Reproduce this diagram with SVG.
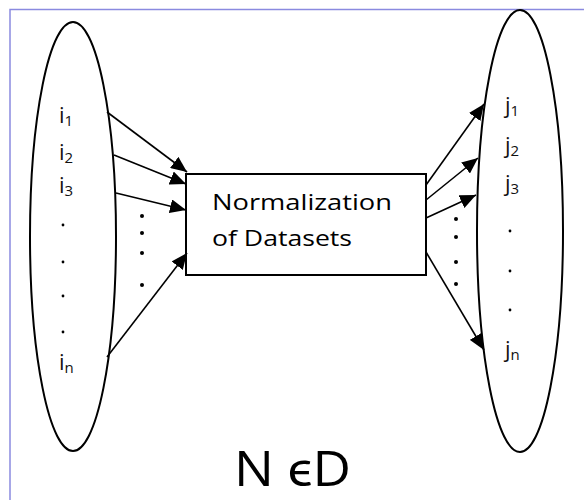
<svg xmlns="http://www.w3.org/2000/svg" width="584" height="500" viewBox="0 0 584 500">
<style>
.ell{fill:none;stroke:#000;stroke-width:2}
.box{fill:#fff;stroke:#000;stroke-width:2}
.lbl{font-family:"Open Sans",Lato,sans-serif;font-size:22px;fill:#111}
.sub{font-size:15px}
.con{stroke:#000;stroke-width:1.6;fill:none}
.dot{fill:#000}
.bt{font-family:"Open Sans",Lato,sans-serif;font-size:22px;fill:#000}
</style>
<defs>
<marker id="ah" markerUnits="userSpaceOnUse" markerWidth="18" markerHeight="14" refX="16" refY="7" orient="auto">
<path d="M0,0 L16,7 L0,14 Z" fill="#000"/>
</marker>
</defs>
<rect x="0" y="0" width="584" height="500" fill="#fff"/>
<path d="M10,500 V9.5 H584" fill="none" stroke="#8a8ae0" stroke-width="1.5"/>
<g id="inputs">
<ellipse class="ell" cx="73" cy="236.5" rx="43" ry="214.5"/>
<text class="lbl" x="59" y="123">i<tspan class="sub" dy="3">1</tspan></text>
<text class="lbl" x="59" y="160">i<tspan class="sub" dy="3">2</tspan></text>
<text class="lbl" x="59" y="193">i<tspan class="sub" dy="3">3</tspan></text>
<circle class="dot" cx="63" cy="225" r="1.4"/>
<circle class="dot" cx="63" cy="262" r="1.4"/>
<circle class="dot" cx="63" cy="296" r="1.4"/>
<circle class="dot" cx="63" cy="332" r="1.4"/>
<text class="lbl" x="59" y="370">i<tspan class="sub" dy="3">n</tspan></text>
</g>
<g id="outputs">
<ellipse class="ell" cx="520" cy="231" rx="43" ry="221"/>
<text class="lbl" x="505" y="113">j<tspan class="sub" dy="3">1</tspan></text>
<text class="lbl" x="505" y="153">j<tspan class="sub" dy="3">2</tspan></text>
<text class="lbl" x="505" y="191">j<tspan class="sub" dy="3">3</tspan></text>
<circle class="dot" cx="510" cy="231" r="1.4"/>
<circle class="dot" cx="510" cy="271" r="1.4"/>
<circle class="dot" cx="510" cy="310" r="1.4"/>
<text class="lbl" x="505" y="357">j<tspan class="sub" dy="3">n</tspan></text>
</g>
<g id="normalization">
<rect class="box" x="186" y="174" width="240" height="101"/>
<text class="bt" x="212" y="210" textLength="180" lengthAdjust="spacingAndGlyphs">Normalization</text>
<text class="bt" x="212" y="246" textLength="140" lengthAdjust="spacingAndGlyphs">of Datasets</text>
</g>
<g id="connectors">
<line class="con" x1="107" y1="112" x2="187" y2="172" marker-end="url(#ah)"/>
<line class="con" x1="114" y1="155" x2="186" y2="184" marker-end="url(#ah)"/>
<line class="con" x1="116" y1="193" x2="186" y2="210" marker-end="url(#ah)"/>
<line class="con" x1="107" y1="357" x2="187" y2="253" marker-end="url(#ah)"/>
<line class="con" x1="426" y1="185" x2="484" y2="104" marker-end="url(#ah)"/>
<line class="con" x1="426" y1="200" x2="478" y2="158" marker-end="url(#ah)"/>
<line class="con" x1="426" y1="218" x2="476" y2="195" marker-end="url(#ah)"/>
<line class="con" x1="426" y1="252" x2="484" y2="350" marker-end="url(#ah)"/>
<circle class="dot" cx="142" cy="216" r="2"/>
<circle class="dot" cx="142" cy="233" r="2"/>
<circle class="dot" cx="142" cy="253" r="2"/>
<circle class="dot" cx="142" cy="285" r="2"/>
<circle class="dot" cx="456" cy="219" r="2"/>
<circle class="dot" cx="456" cy="237" r="2"/>
<circle class="dot" cx="456" cy="262" r="2"/>
<circle class="dot" cx="456" cy="284" r="2"/>
</g>
<text x="234" y="486" textLength="117" lengthAdjust="spacingAndGlyphs" style="font-family:'Open Sans',Lato,sans-serif;font-size:50px;fill:#000">N ϵD</text>
</svg>
